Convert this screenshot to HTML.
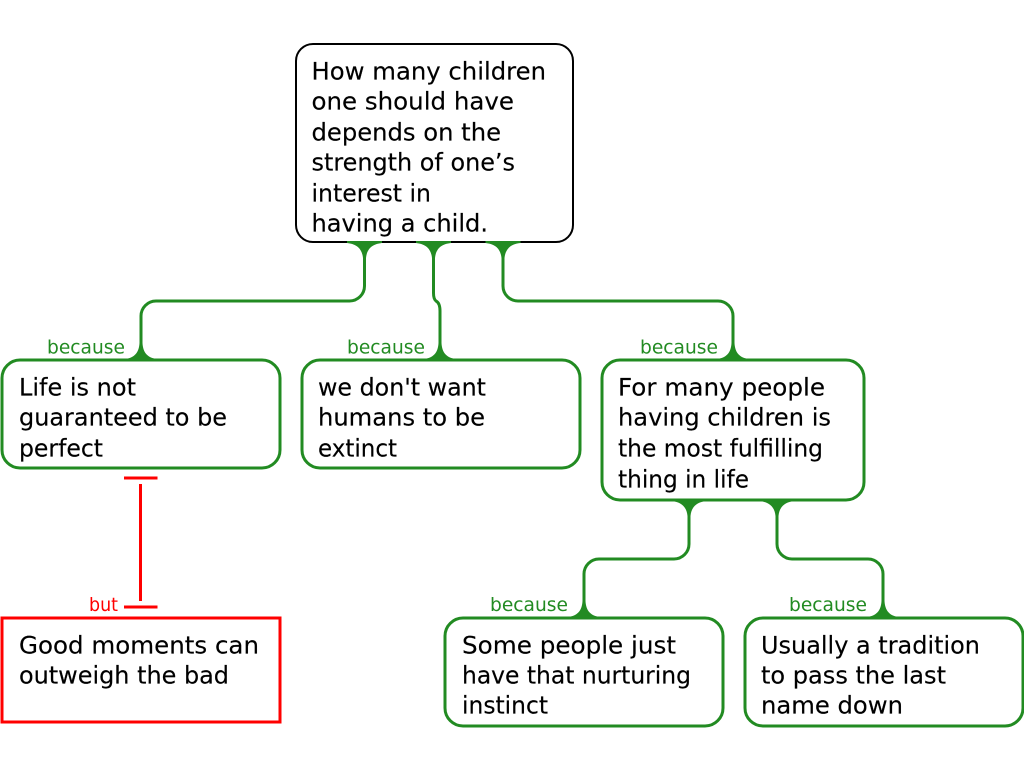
<!DOCTYPE html>
<html>
<head>
<meta charset="utf-8">
<style>
html,body{margin:0;padding:0;background:#fff;width:1024px;height:768px;overflow:hidden}
svg{display:block}
.t{font-family:"DejaVu Sans","Liberation Sans",sans-serif;font-size:24px;fill:#000;stroke:#000;stroke-width:.15}
.l{font-family:"DejaVu Sans","Liberation Sans",sans-serif;font-size:19px;fill:#228b22}
.b{fill:#fff;stroke:#228b22;stroke-width:3}
.c{fill:none;stroke:#228b22;stroke-width:3}
.f{fill:#228b22;stroke:none}
</style>
</head>
<body>
<svg width="1024" height="768" viewBox="0 0 1024 768" xmlns="http://www.w3.org/2000/svg">
<!-- connectors -->
<path class="c" d="M364.500 242V286A15 15 0 0 1 349.500 301H156A15 15 0 0 0 141 316V360"/>
<path class="c" d="M433.500 242V293Q433.500 299 436 301Q440 303 440 311V360"/>
<path class="c" d="M503 242V286A15 15 0 0 0 518 301H718A15 15 0 0 1 733 316V360"/>
<path class="c" d="M689 500V544A15 15 0 0 1 674 559H599A15 15 0 0 0 584 574V618"/>
<path class="c" d="M777 500V544A15 15 0 0 0 792 559H868A15 15 0 0 1 883 574V618"/>
<!-- red connector -->
<g stroke="#ff0000" stroke-width="3" fill="none">
<path d="M124 478H157.500"/>
<path d="M140.500 484V601"/>
<path d="M124 607H157.500"/>
</g>
<!-- boxes -->
<rect x="296" y="44" width="277" height="198" rx="17" fill="#fff" stroke="#000" stroke-width="2"/>
<rect class="b" x="2" y="360" width="278" height="108" rx="18"/>
<rect class="b" x="302" y="360" width="278" height="108" rx="18"/>
<rect class="b" x="602" y="360" width="262" height="140" rx="18"/>
<rect class="b" x="445" y="618" width="278" height="108" rx="18"/>
<rect class="b" x="745" y="618" width="278" height="108" rx="18"/>
<rect x="2" y="618" width="278" height="104" fill="#fff" stroke="#ff0000" stroke-width="3"/>
<!-- flares down from source -->
<path class="f" d="M347 241H382V243C373 244 367 248 366 258H363C362 248 356 244 347 243Z"/>
<path class="f" d="M416 241H451V243C442 244 436 248 435 258H432C431 248 425 244 416 243Z"/>
<path class="f" d="M485.500 241H520.500V243C511.500 244 505.500 248 504.500 258H501.500C500.500 248 494.500 244 485.500 243Z"/>
<path class="f" d="M671.500 499H706.500V501C697.500 502 691.500 506 690.500 516H687.500C686.500 506 680.500 502 671.500 501Z"/>
<path class="f" d="M759.500 499H794.500V501C785.500 502 779.500 506 778.500 516H775.500C774.500 506 768.500 502 759.500 501Z"/>
<!-- flares into target -->
<path class="f" d="M125 361H157V359C148 358 143 353 142.500 343H139.500C139 353 134 358 125 359Z"/>
<path class="f" d="M424 361H456V359C447 358 442 353 441.500 343H438.500C438 353 433 358 424 359Z"/>
<path class="f" d="M717 361H749V359C740 358 735 353 734.500 343H731.500C731 353 726 358 717 359Z"/>
<path class="f" d="M568 619H600V617C591 616 586 611 585.500 601H582.500C582 611 577 616 568 617Z"/>
<path class="f" d="M867 619H899V617C890 616 885 611 884.500 601H881.500C881 611 876 616 867 617Z"/>
<!-- text -->
<g class="t">
<text x="311.500" y="79.500" textLength="234.500" lengthAdjust="spacingAndGlyphs">How many children</text>
<text x="311.500" y="109.500" textLength="202.500" lengthAdjust="spacingAndGlyphs">one should have</text>
<text x="311.500" y="140.500" textLength="189.500" lengthAdjust="spacingAndGlyphs">depends on the</text>
<text x="311.500" y="170.500" textLength="203.500" lengthAdjust="spacingAndGlyphs">strength of one’s</text>
<text x="311.500" y="201.500" textLength="119.500" lengthAdjust="spacingAndGlyphs">interest in</text>
<text x="311.500" y="231.500" textLength="176.500" lengthAdjust="spacingAndGlyphs">having a child.</text>
<text x="19" y="395.500" textLength="117" lengthAdjust="spacingAndGlyphs">Life is not</text>
<text x="19" y="425.500" textLength="208" lengthAdjust="spacingAndGlyphs">guaranteed to be</text>
<text x="19" y="456.500" textLength="84" lengthAdjust="spacingAndGlyphs">perfect</text>
<text x="318" y="395.500" textLength="168" lengthAdjust="spacingAndGlyphs">we don't want</text>
<text x="318" y="425.500" textLength="167" lengthAdjust="spacingAndGlyphs">humans to be</text>
<text x="318" y="456.500" textLength="79" lengthAdjust="spacingAndGlyphs">extinct</text>
<text x="618" y="395.500" textLength="207" lengthAdjust="spacingAndGlyphs">For many people</text>
<text x="618" y="425.500" textLength="213" lengthAdjust="spacingAndGlyphs">having children is</text>
<text x="618" y="456.500" textLength="205" lengthAdjust="spacingAndGlyphs">the most fulfilling</text>
<text x="618" y="487.500" textLength="131" lengthAdjust="spacingAndGlyphs">thing in life</text>
<text x="19" y="653.500" textLength="240" lengthAdjust="spacingAndGlyphs">Good moments can</text>
<text x="19" y="683.500" textLength="210" lengthAdjust="spacingAndGlyphs">outweigh the bad</text>
<text x="462" y="653.500" textLength="214" lengthAdjust="spacingAndGlyphs">Some people just</text>
<text x="462" y="683.500" textLength="229" lengthAdjust="spacingAndGlyphs">have that nurturing</text>
<text x="462" y="713.500" textLength="86" lengthAdjust="spacingAndGlyphs">instinct</text>
<text x="761" y="653.500" textLength="219" lengthAdjust="spacingAndGlyphs">Usually a tradition</text>
<text x="761" y="683.500" textLength="185" lengthAdjust="spacingAndGlyphs">to pass the last</text>
<text x="761" y="713.500" textLength="142" lengthAdjust="spacingAndGlyphs">name down</text>
</g>
<!-- labels -->
<g class="l">
<text x="47" y="353.500" textLength="78" lengthAdjust="spacingAndGlyphs">because</text>
<text x="347" y="353.500" textLength="78" lengthAdjust="spacingAndGlyphs">because</text>
<text x="640" y="353.500" textLength="78" lengthAdjust="spacingAndGlyphs">because</text>
<text x="490" y="611" textLength="78" lengthAdjust="spacingAndGlyphs">because</text>
<text x="789" y="611" textLength="78" lengthAdjust="spacingAndGlyphs">because</text>
<text x="89" y="611" textLength="29" lengthAdjust="spacingAndGlyphs" style="fill:#ff0000">but</text>
</g>
</svg>
</body>
</html>
